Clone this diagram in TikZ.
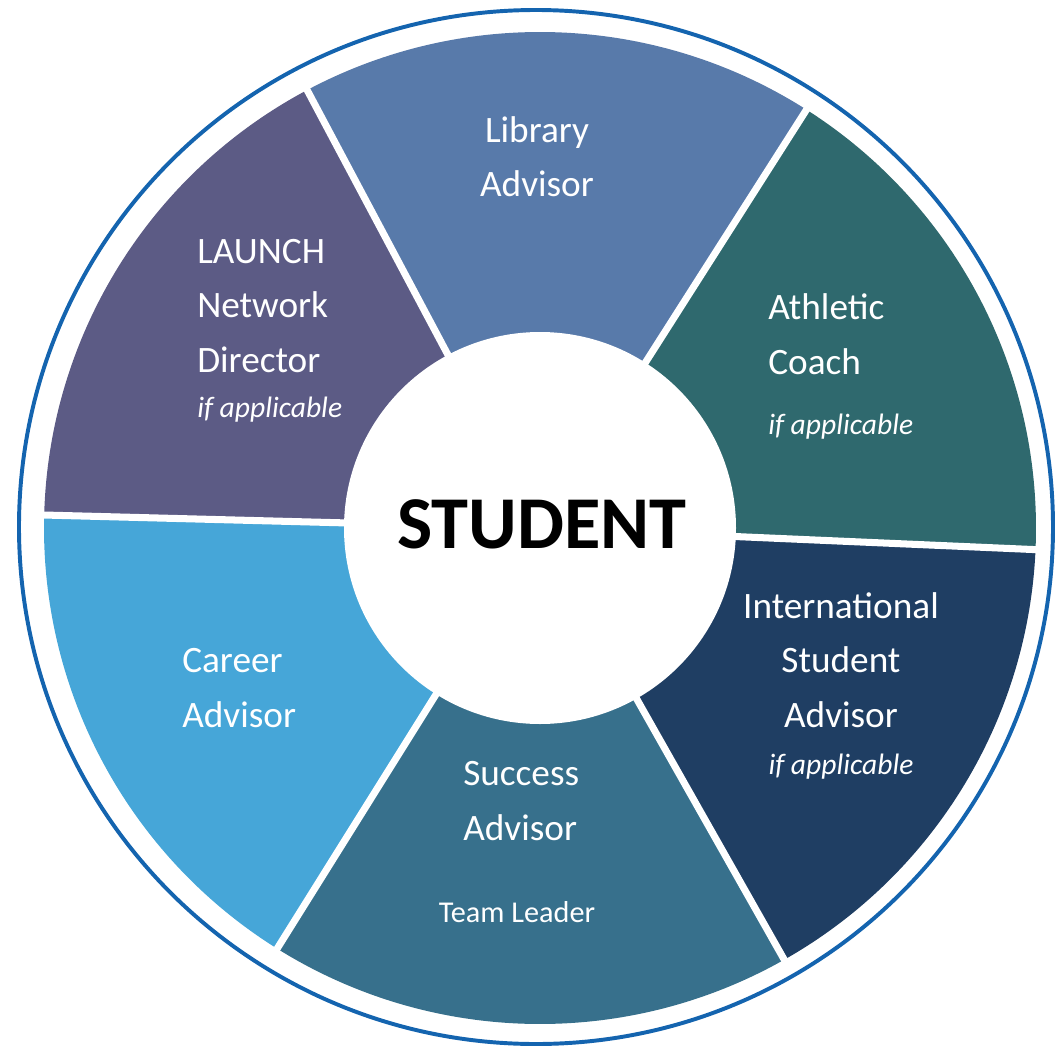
\documentclass[tikz,border=0pt]{standalone}
\usepackage{fontspec}
\setmainfont{Carlito}

\definecolor{colAnillo}{HTML}{1464AF}
\definecolor{colLibrary}{HTML}{587AAA}
\definecolor{colLaunch}{HTML}{5C5B85}
\definecolor{colAthletic}{HTML}{2F696E}
\definecolor{colIntl}{HTML}{1F3E63}
\definecolor{colSuccess}{HTML}{37708C}
\definecolor{colCareer}{HTML}{46A6D8}

\begin{document}
\begin{tikzpicture}[scale=0.025,
        etiqueta/.style={text=white, inner sep=0pt, font=\fontsize{26.5}{38.5}\selectfont},
        nota/.style={text=white, inner sep=0pt, font=\fontsize{21}{25}\selectfont\itshape},
        divisor/.style={white, line width=5pt}]
        \useasboundingbox (-540,-525) rectangle (516,528);

        % Paso 1: Dibuja el anillo exterior
        \draw[colAnillo, line width=2.8pt] (-4,1) circle (517);

        % Paso 2: Rellena los seis sectores
        \coordinate (O) at (0,0);
        \fill[colLibrary]  (O) -- (57.5:496) arc (57.5:118:496) -- cycle;
        \fill[colLaunch]   (O) -- (118:496) arc (118:178.5:496) -- cycle;
        \fill[colCareer]   (O) -- (178.5:496) arc (178.5:238:496) -- cycle;
        \fill[colSuccess]  (O) -- (238:496) arc (238:299.5:496) -- cycle;
        \fill[colIntl]     (O) -- (-60.5:496) arc (-60.5:-2.5:496) -- cycle;
        \fill[colAthletic] (O) -- (-2.5:496) arc (-2.5:57.5:496) -- cycle;

        % Paso 3: Separa los sectores con rayos blancos
        \foreach \a in {118,57.5,-2.5,-60.5,-122,178.5}
            \draw[divisor] (O) -- (\a:500);

        % Paso 4: Circulo central
        \fill[white] (O) circle (196);
        \node (student) [anchor=base, inner sep=0pt, font=\fontsize{53}{60}\selectfont\bfseries]
            at (2,-20) {STUDENT};

        % Paso 5: Etiquetas de cada sector (base = ultima linea)
        \node (library) [etiqueta, anchor=base, align=center] at (-3,331) {Library\\Advisor};
        \node (launch) [etiqueta, anchor=base west, align=left] at (-343,156) {LAUNCH\\Network\\Director};
        \node (launchnota) [nota, anchor=base west] at (-343,111) {if applicable};
        \node (athletic) [etiqueta, anchor=base west, align=left] at (228,154) {Athletic\\Coach};
        \node (athleticnota) [nota, anchor=base west] at (228,94) {if applicable};
        \node (intl) [etiqueta, anchor=base, align=center] at (301,-199) {International\\Student\\Advisor};
        \node (intlnota) [nota, anchor=base] at (301,-246) {if applicable};
        \node (career) [etiqueta, anchor=base west, align=left] at (-358,-199) {Career\\Advisor};
        \node (success) [etiqueta, anchor=base west, align=left] at (-77,-312) {Success\\Advisor};
        \node (leader) [text=white, inner sep=0pt, anchor=base, font=\fontsize{21.5}{24}\selectfont]
            at (-23,-394) {Team Leader};
\end{tikzpicture}
\end{document}
